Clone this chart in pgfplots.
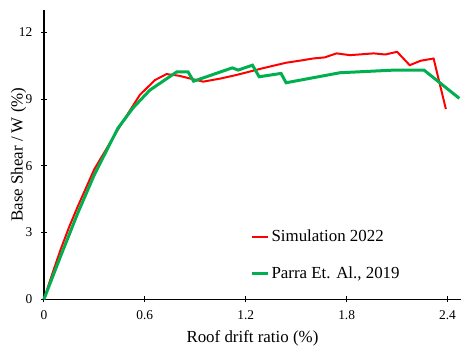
\documentclass[border=0pt]{standalone}
\usepackage{fontspec}
\setmainfont{Liberation Serif}
\usepackage{pgfplots}
\pgfplotsset{compat=1.18}
\definecolor{simred}{RGB}{255,0,0}
\definecolor{pgreen}{RGB}{0,176,80}
\begin{document}
\begin{tikzpicture}
\begin{axis}[
  scale only axis,
  width=418bp, height=290bp,
  xmin=0, xmax=2.48, ymin=0, ymax=13,
  axis lines*=left,
  axis line style={line width=1.2pt},
  xtick={0,0.6,1.2,1.8,2.4},
  ytick={0,3,6,9,12},
  xticklabels={0,0.6,1.2,1.8,2.4},
  yticklabels={0,3,6,9,12},
  tick align=center,
  major tick length=6bp,
  tick style={line width=1pt, black},
  /pgf/number format/assume math mode=true,
  ticklabel style={font=\fontsize{13.5}{15}\selectfont},
  xticklabel style={yshift=-5bp},
  yticklabel style={xshift=-5bp},
  xlabel={Roof drift ratio (\%)},
  ylabel={Base Shear / W (\%)},
  label style={font=\fontsize{17}{19}\selectfont},
  xlabel style={yshift=-4bp},
  ylabel style={yshift=-14bp},
  legend style={draw=none, fill=none, at={(0.495,0.153)}, anchor=west,
    font=\fontsize{17}{19}\selectfont, row sep=20bp, inner sep=0pt,
    /tikz/every even column/.append style={column sep=0pt}},
  legend cell align=left,
  legend image code/.code={\draw[#1] (0bp,0bp) -- (16bp,0bp);},
  clip=false,
]
\addplot[simred, line width=2bp] coordinates {
(0,0) (0.05,1.15) (0.1,2.25) (0.15,3.25) (0.2,4.15) (0.3,5.85) (0.45,7.75)
(0.57,9.18) (0.66,9.85) (0.729,10.12) (0.8,10.05) (0.87,9.92) (0.947,9.78)
(1.05,9.92) (1.145,10.08) (1.3,10.38) (1.44,10.63) (1.52,10.72) (1.60,10.82) (1.67,10.87)
(1.74,11.05) (1.82,10.97) (1.96,11.05) (2.03,11.0) (2.10,11.12) (2.175,10.52)
(2.24,10.72) (2.317,10.82) (2.39,8.55)
};
\addlegendentry{Simulation 2022}
\addplot[pgreen, line width=3bp] coordinates {
(0,0) (0.1,1.95) (0.2,3.85) (0.3,5.6) (0.44,7.69) (0.53,8.6) (0.63,9.4)
(0.79,10.22) (0.857,10.22) (0.89,9.8) (1.12,10.4) (1.155,10.3) (1.24,10.52)
(1.28,10.0) (1.41,10.15) (1.44,9.73) (1.76,10.18) (2.085,10.3) (2.26,10.3) (2.47,9.03)
};
\addlegendentry{Parra Et. Al., 2019}
\coordinate (bl) at (rel axis cs:0,0);
\coordinate (tr) at (rel axis cs:1,1);
\end{axis}
\pgfresetboundingbox
\path[use as bounding box] ([shift={(-44bp,-49bp)}]bl) rectangle ([shift={(1bp,10bp)}]tr);
\end{tikzpicture}
\end{document}
